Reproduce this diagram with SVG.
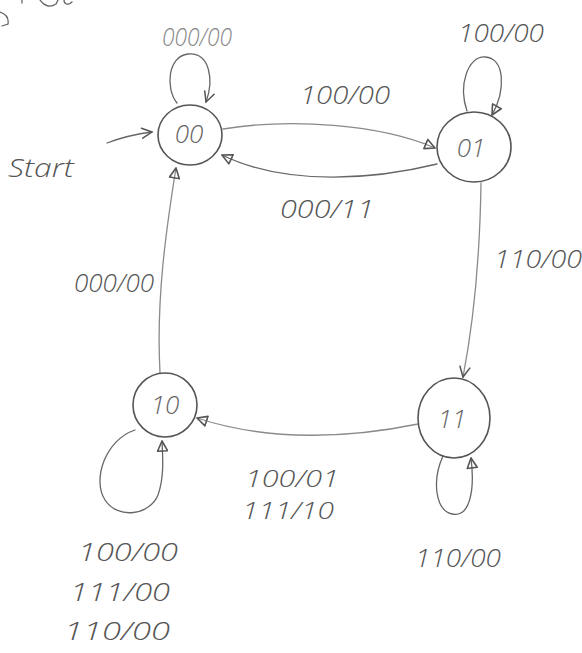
<svg xmlns="http://www.w3.org/2000/svg" width="582" height="653" viewBox="0 0 582 653">
  <defs>
    <style>
      .state { fill: none; stroke: #555; stroke-width: 1.6; }
      .edge { fill: none; stroke: #666; stroke-width: 1.3; stroke-linecap: round; }
      .light { stroke: #8a8a8a; }
      .lbl { font-family: "Open Sans", "Liberation Sans", "DejaVu Sans", sans-serif; font-weight: 300; font-style: italic; font-size: 26px; fill: #555; }
      .sm { font-size: 23px; }
      .name { font-family: "Open Sans", "Liberation Sans", "DejaVu Sans", sans-serif; font-weight: 300; font-style: italic; font-size: 26px; fill: #666; text-anchor: middle; }
    </style>
    <marker id="tri" viewBox="0 0 12 12" refX="11" refY="6" markerWidth="12" markerHeight="12" markerUnits="userSpaceOnUse" orient="auto">
      <path d="M1,1 L11,6 L1,11 Z" fill="none" stroke="#555" stroke-width="1.6" stroke-linejoin="round"/>
    </marker>
    <marker id="vee" viewBox="0 0 12 12" refX="11" refY="6" markerWidth="12" markerHeight="12" markerUnits="userSpaceOnUse" orient="auto">
      <path d="M1,1 L11,6 L1,11" fill="none" stroke="#555" stroke-width="1.5" stroke-linecap="round"/>
    </marker>
  </defs>

  <rect width="582" height="653" fill="#ffffff"/>

  <!-- cut-off pencil stroke in the top-left corner -->
  <path class="edge" d="M0,12 C6,14 9,18 8,24 L2,26" />
  <path class="edge" d="M22,0 L22,3 M40,0 C44,6 50,8 56,4 L58,0 M64,0 C64,4 68,6 72,2" />

  <!-- connectors -->
  <g id="connectors">
    <!-- start arrow -->
    <path class="edge" d="M107,143 Q128,135 152,132" marker-end="url(#vee)"/>
    <!-- 00 self loop -->
    <path class="edge" d="M177,103 C165,88 168,56 188,54 C210,52 214,80 206,102" marker-end="url(#vee)"/>
    <!-- 00 -> 01 -->
    <path class="edge light" d="M223,129 C290,118 380,124 435,148" marker-end="url(#tri)"/>
    <!-- 01 -> 00 -->
    <path class="edge" d="M437,164 C380,178 290,188 222,155" marker-end="url(#tri)"/>
    <!-- 01 self loop -->
    <path class="edge" d="M467,111 C458,85 468,56 485,57 C505,58 506,90 492,115" marker-end="url(#tri)"/>
    <!-- 01 -> 11 -->
    <path class="edge light" d="M481,183 C480,250 474,320 463,377" marker-end="url(#vee)"/>
    <!-- 10 -> 00 -->
    <path class="edge light" d="M160,373 C156,300 166,230 176,168" marker-end="url(#tri)"/>
    <!-- 11 -> 10 -->
    <path class="edge light" d="M418,424 C350,438 270,442 197,418" marker-end="url(#tri)"/>
    <!-- 10 self loop -->
    <path class="edge" d="M135,430 C105,440 92,480 105,500 C118,520 150,515 158,495 C164,478 163,460 162,441" marker-end="url(#tri)"/>
    <!-- 11 self loop -->
    <path class="edge" d="M443,456 C432,480 435,510 452,514 C470,518 475,490 471,458" marker-end="url(#tri)"/>
  </g>

  <!-- states -->
  <g id="s00">
    <ellipse class="state" cx="190" cy="135" rx="32" ry="30"/>
    <text class="name" x="189" y="143">00</text>
  </g>
  <g id="s01">
    <ellipse class="state" cx="474" cy="147" rx="37" ry="35"/>
    <text class="name" x="471" y="157">01</text>
  </g>
  <g id="s10">
    <ellipse class="state" cx="165" cy="405" rx="32" ry="32"/>
    <text class="name" x="165" y="414">10</text>
  </g>
  <g id="s11">
    <ellipse class="state" cx="454" cy="418" rx="36" ry="40"/>
    <text class="name" x="452" y="428">11</text>
  </g>

  <!-- transition labels -->
  <g id="labels">
    <text class="lbl" x="162" y="46" textLength="70" lengthAdjust="spacingAndGlyphs" style="fill:#888">000/00</text>
    <text class="lbl" x="458" y="42" textLength="86" lengthAdjust="spacingAndGlyphs">100/00</text>
    <text class="lbl" x="300" y="104" textLength="90" lengthAdjust="spacingAndGlyphs">100/00</text>
    <text class="lbl" x="280" y="218" textLength="94" lengthAdjust="spacingAndGlyphs">000/11</text>
    <text class="lbl" x="494" y="268" textLength="88" lengthAdjust="spacingAndGlyphs">110/00</text>
    <text class="lbl" x="74" y="292" textLength="80" lengthAdjust="spacingAndGlyphs">000/00</text>
    <text class="lbl" x="8" y="177" textLength="66" lengthAdjust="spacingAndGlyphs">Start</text>
    <text class="lbl sm" x="245" y="487" textLength="94" lengthAdjust="spacingAndGlyphs">100/01</text>
    <text class="lbl sm" x="242" y="519" textLength="92" lengthAdjust="spacingAndGlyphs">111/10</text>
    <text class="lbl" x="415" y="567" textLength="86" lengthAdjust="spacingAndGlyphs">110/00</text>
    <text class="lbl" x="78" y="561" textLength="100" lengthAdjust="spacingAndGlyphs">100/00</text>
    <text class="lbl" x="70" y="601" textLength="100" lengthAdjust="spacingAndGlyphs">111/00</text>
    <text class="lbl" x="64" y="640" textLength="106" lengthAdjust="spacingAndGlyphs">110/00</text>
  </g>
</svg>
